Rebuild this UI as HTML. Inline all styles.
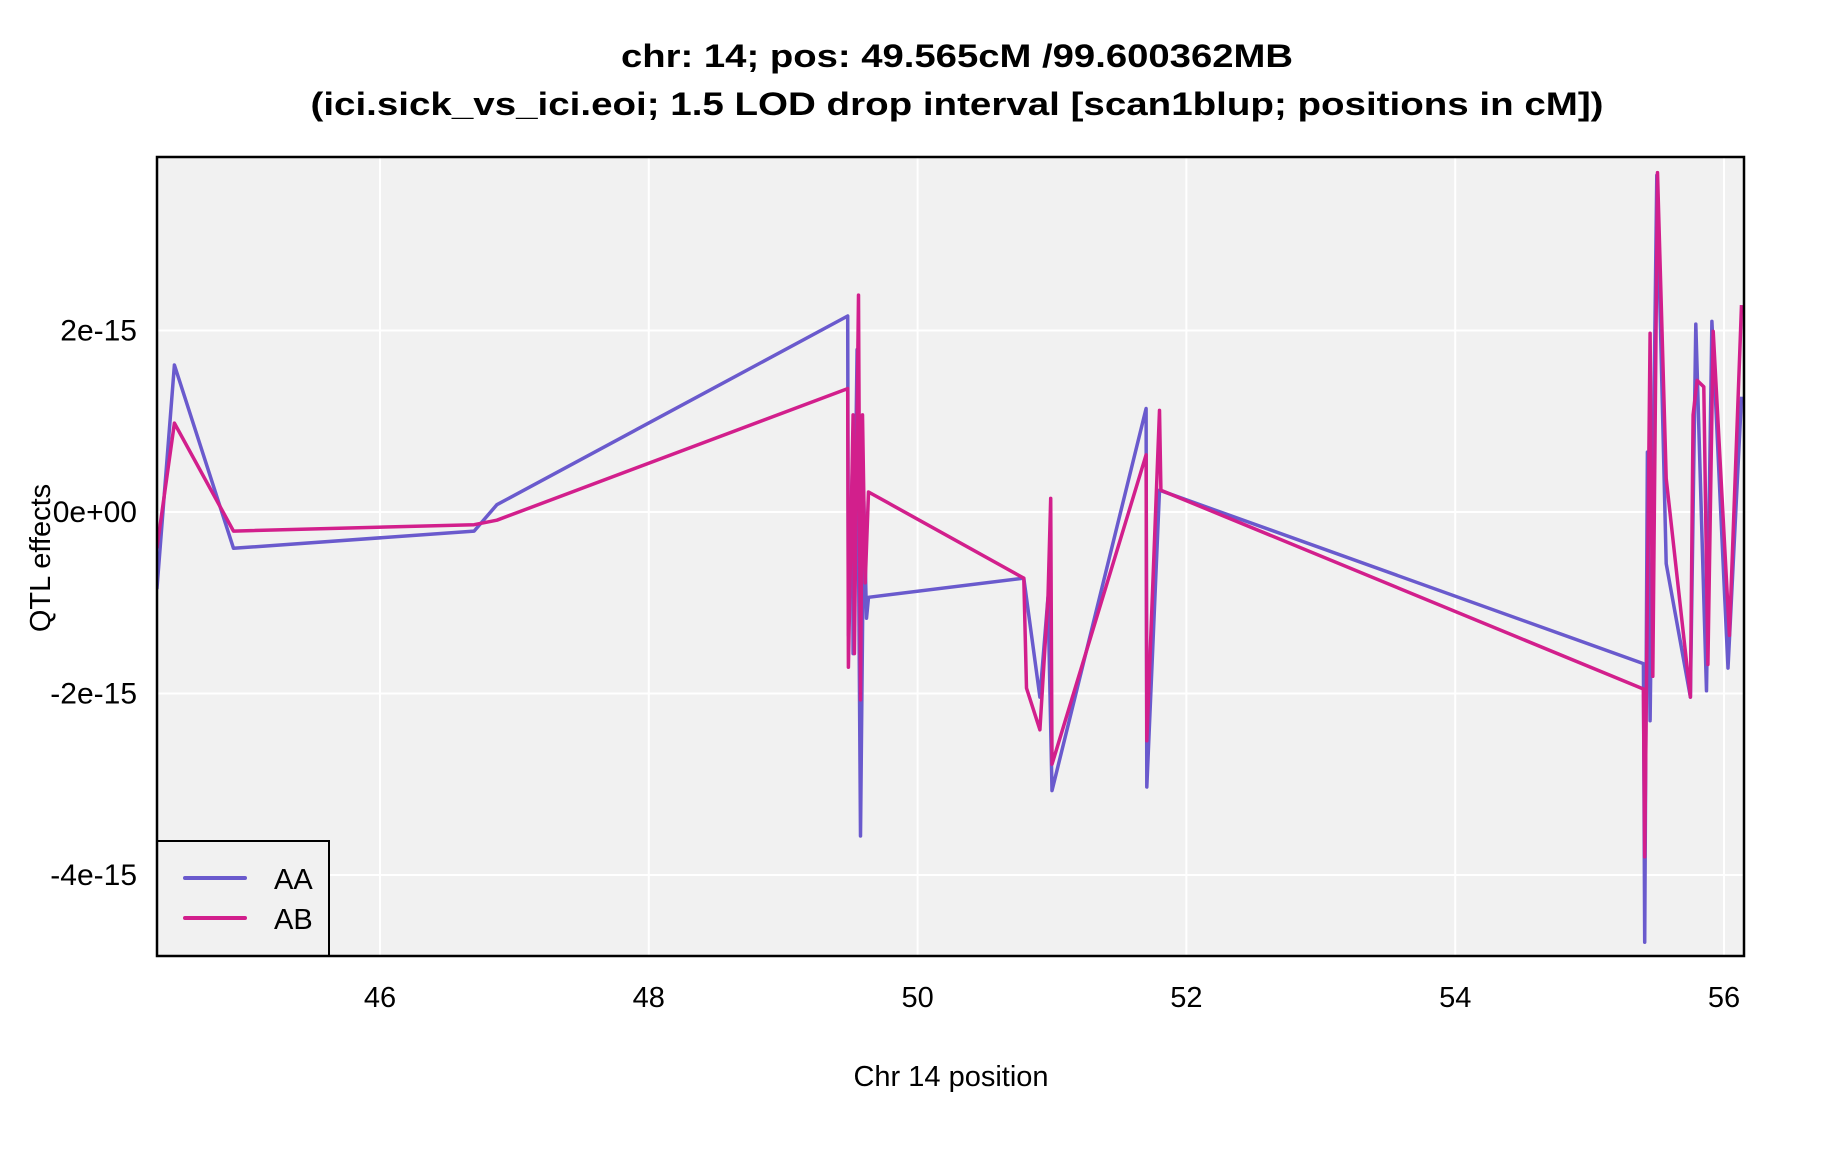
<!DOCTYPE html>
<html><head><meta charset="utf-8"><style>
html,body{margin:0;padding:0;background:#fff;}
svg{display:block;font-family:"Liberation Sans",sans-serif;}
</style></head><body>
<svg id="chart" width="1824" height="1152" viewBox="0 0 1824 1152" xmlns="http://www.w3.org/2000/svg">
<text x="957" y="67" text-anchor="middle" font-size="32" font-weight="bold" textLength="672" lengthAdjust="spacingAndGlyphs">chr: 14; pos: 49.565cM /99.600362MB</text>
<text x="957" y="115" text-anchor="middle" font-size="32" font-weight="bold" textLength="1293" lengthAdjust="spacingAndGlyphs">(ici.sick_vs_ici.eoi; 1.5 LOD drop interval [scan1blup; positions in cM])</text>
<rect x="157" y="157" width="1587" height="799" fill="#f1f1f1"/>
<g id="grid"></g>
<defs><clipPath id="clip"><rect x="157" y="157" width="1587" height="799"/></clipPath></defs>
<g id="series" clip-path="url(#clip)"></g>
<g id="ticks"></g>
<rect x="157" y="841" width="172" height="115" fill="#f1f1f1" stroke="#000" stroke-width="2"/>
<line x1="185" y1="878" x2="245" y2="878" stroke="#6a5acd" stroke-width="4" stroke-linecap="round"/>
<text x="274" y="889" font-size="29">AA</text>
<line x1="185" y1="918" x2="245" y2="918" stroke="#d21f8c" stroke-width="4" stroke-linecap="round"/>
<text x="274" y="929" font-size="29">AB</text>
<rect x="157" y="157" width="1587" height="799" fill="none" stroke="#000" stroke-width="2.5"/>
<text x="951" y="1086" text-anchor="middle" font-size="29">Chr 14 position</text>
<text transform="translate(50,558) rotate(-90)" text-anchor="middle" font-size="29">QTL effects</text>
</svg>
<script>
const xTicks = [46, 48, 50, 52, 54, 56];
const yTicks = [2, 0, -2, -4];
const yTickLabels = ["2e-15", "0e+00", "-2e-15", "-4e-15"];
const aaPos = [44.34,44.47,44.91,46.70,46.87,49.48,49.485,49.515,49.52,49.55,49.575,49.60,49.62,49.635,50.79,50.91,50.97,51.00,51.70,51.705,51.80,55.40,55.41,55.43,55.45,55.50,55.57,55.75,55.79,55.87,55.91,56.03,56.13];
const aaVal = [-0.85,1.62,-0.40,-0.21,0.08,2.16,-1.36,0.50,-1.56,1.79,-3.57,0.12,-1.17,-0.94,-0.73,-2.04,-0.94,-3.07,1.14,-3.03,0.24,-1.67,-4.74,0.66,-2.30,3.71,-0.57,-2.04,2.07,-1.97,2.10,-1.72,1.27];
const abPos = [44.34,44.47,44.91,46.70,46.87,49.48,49.485,49.52,49.53,49.56,49.575,49.59,49.61,49.635,50.79,50.81,50.91,50.97,50.99,51.00,51.70,51.705,51.80,51.81,55.40,55.41,55.45,55.47,55.505,55.57,55.75,55.77,55.80,55.85,55.88,55.92,56.04,56.13];
const abVal = [-0.40,0.98,-0.21,-0.14,-0.09,1.36,-1.71,1.07,-1.56,2.39,-2.07,1.07,-0.78,0.22,-0.73,-1.94,-2.40,-0.94,0.15,-2.78,0.63,-2.52,1.12,0.24,-1.95,-3.80,1.97,-1.81,3.74,0.37,-2.04,1.07,1.45,1.38,-1.68,1.99,-1.36,2.28];

const NS = "http://www.w3.org/2000/svg";
function xScale(v){ return 380 + (v - 46) * 134.4; }
function yScale(v){ return 512 - v * 90.75; }

const grid = document.getElementById('grid');
const ticks = document.getElementById('ticks');
xTicks.forEach(t => {
  const l = document.createElementNS(NS, 'line');
  l.setAttribute('x1', xScale(t)); l.setAttribute('x2', xScale(t));
  l.setAttribute('y1', 157); l.setAttribute('y2', 956);
  l.setAttribute('stroke', '#fff'); l.setAttribute('stroke-width', 2);
  
  
  grid.appendChild(l);
  const tx = document.createElementNS(NS, 'text');
  tx.setAttribute('x', xScale(t)); tx.setAttribute('y', 1007);
  tx.setAttribute('text-anchor', 'middle'); tx.setAttribute('font-size', 29);
  tx.textContent = t;
  
  
  ticks.appendChild(tx);
});
yTicks.forEach((t, i) => {
  const l = document.createElementNS(NS, 'line');
  l.setAttribute('x1', 157); l.setAttribute('x2', 1744);
  l.setAttribute('y1', yScale(t)); l.setAttribute('y2', yScale(t));
  l.setAttribute('stroke', '#fff'); l.setAttribute('stroke-width', 2);
  
  
  grid.appendChild(l);
  const tx = document.createElementNS(NS, 'text');
  tx.setAttribute('x', 137); tx.setAttribute('y', yScale(t) + 10);
  tx.setAttribute('text-anchor', 'end'); tx.setAttribute('font-size', 30);
  tx.textContent = yTickLabels[i];
  
  
  ticks.appendChild(tx);
});

const series = document.getElementById('series');
function drawLine(pos, val, color, name){
  const p = document.createElementNS(NS, 'polyline');
  p.setAttribute('points', pos.map((x, i) => xScale(x).toFixed(1) + ',' + yScale(val[i]).toFixed(1)).join(' '));
  p.setAttribute('fill', 'none'); p.setAttribute('stroke', color);
  p.setAttribute('stroke-width', 3.5); p.setAttribute('stroke-linejoin', 'round');
  
  
  series.appendChild(p);
}
drawLine(aaPos, aaVal, '#6a5acd', 'aa-line');
drawLine(abPos, abVal, '#d21f8c', 'ab-line');
</script>
</body></html>
